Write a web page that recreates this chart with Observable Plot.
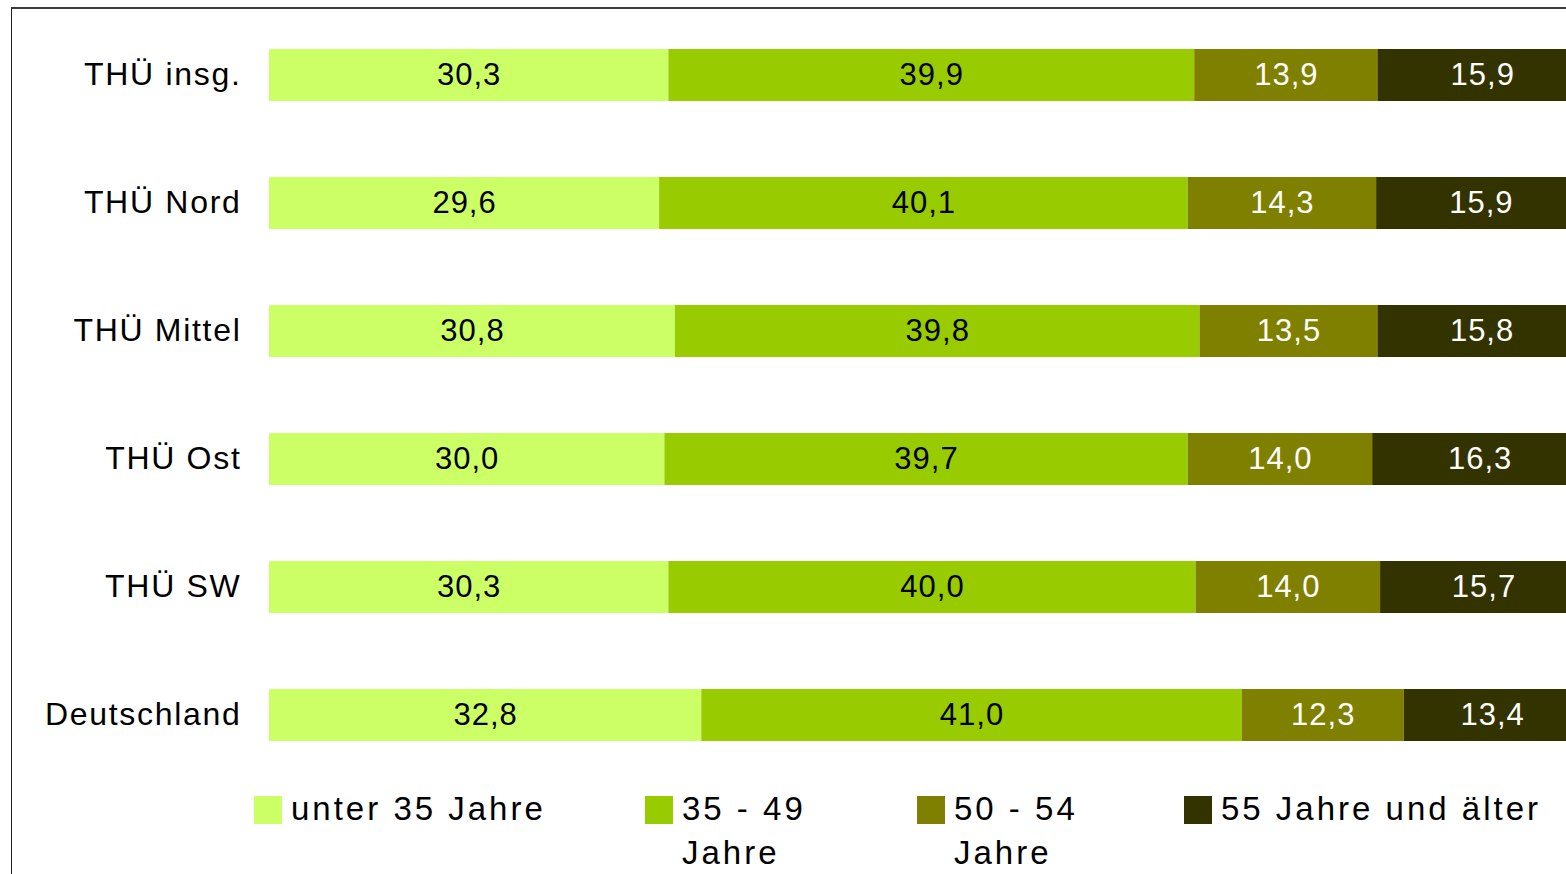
<!DOCTYPE html>
<html>
<head>
<meta charset="utf-8">
<script src="https://cdn.jsdelivr.net/npm/d3@7"></script>
<script src="https://cdn.jsdelivr.net/npm/@observablehq/plot@0.6"></script>
<style>
  html, body { margin: 0; padding: 0; background: #fff; }
  body { width: 1566px; height: 874px; overflow: hidden; position: relative; font-family: "Liberation Sans", Arial, sans-serif; }
  #frame { position: absolute; left: 11px; top: 7px; right: -5px; bottom: -5px; border-top: 2px solid #3c3c3c; border-left: 1px solid #222; pointer-events: none; }
  #chart { position: absolute; left: 0; top: 1px; }
  #chart svg text { letter-spacing: 1px; }
  #chart svg g[aria-label="y-axis tick label"] text { letter-spacing: 1.7px; }
  #legend { position: absolute; top: 787px; left: 0; width: 1566px; height: 87px; }
  .item { position: absolute; top: 0; display: flex; align-items: flex-start; }
  .sw { width: 28px; height: 28px; margin-top: 9px; margin-right: 9px; flex: none; }
  .lt { font-size: 33px; line-height: 44px; letter-spacing: 3px; color: #000; }
</style>
</head>
<body>
<div id="chart"></div>
<div id="legend"></div>
<div id="frame"></div>
<script>
const categories = ["THÜ insg.", "THÜ Nord", "THÜ Mittel", "THÜ Ost", "THÜ SW", "Deutschland"];
const series = ["unter 35 Jahre", "35 - 49 Jahre", "50 - 54 Jahre", "55 Jahre und älter"];
const colors = ["#CCFF66", "#99CC00", "#808000", "#333300"];
const labelColors = ["#000000", "#000000", "#ffffff", "#ffffff"];
const unter35 = [30.3, 29.6, 30.8, 30.0, 30.3, 32.8];
const j35_49 = [39.9, 40.1, 39.8, 39.7, 40.0, 41.0];
const j50_54 = [13.9, 14.3, 13.5, 14.0, 14.0, 12.3];
const ab55 = [15.9, 15.9, 15.8, 16.3, 15.7, 13.4];

const seriesValues = [unter35, j35_49, j50_54, ab55];
const table = [];
series.forEach((s, si) => {
  categories.forEach((c, ci) => {
    table.push({cat: c, series: s, si, value: seriesValues[si][ci]});
  });
});
const fmt = v => v.toFixed(1).replace(".", ",");

const chart = Plot.plot({
  width: 1566,
  height: 785,
  marginLeft: 269,
  marginRight: 0,
  marginTop: 0,
  marginBottom: 0,
  style: {fontFamily: "'Liberation Sans', Arial, sans-serif", background: "transparent", overflow: "hidden"},
  x: {domain: [0, 100], range: [269, 1587], axis: null},
  y: {domain: categories, range: [10, 778], paddingInner: 0.59, paddingOuter: 0.295, axis: null},
  color: {domain: series, range: colors},
  marks: [
    Plot.barX(table, Plot.stackX({x: "value", y: "cat", fill: "series", order: null})),
    Plot.textX(table, Plot.stackX({
      x: "value", y: "cat", order: null,
      text: d => fmt(d.value),
      fill: d => labelColors[d.si],
      fontSize: 31,
      dy: 0
    })),
    Plot.axisY({tickSize: 0, tickPadding: 28, fontSize: 32, fill: "#000", label: null, dy: -1})
  ]
});
document.getElementById("chart").appendChild(chart);

const legendLeft = [254, 645, 917, 1184];
const legendTextWidth = [330, 150, 150, 380];
const legend = document.getElementById("legend");
series.forEach((s, i) => {
  const item = document.createElement("div");
  item.className = "item";
  item.style.left = legendLeft[i] + "px";
  const sw = document.createElement("div");
  sw.className = "sw";
  sw.style.background = colors[i];
  const t = document.createElement("div");
  t.className = "lt";
  t.style.width = legendTextWidth[i] + "px";
  t.textContent = s;
  item.appendChild(sw);
  item.appendChild(t);
  legend.appendChild(item);
});
</script>
</body>
</html>
